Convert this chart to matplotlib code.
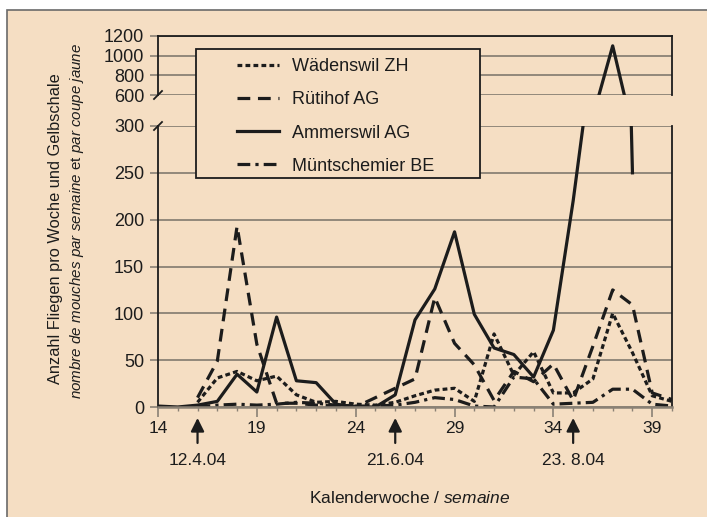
import numpy as np
import matplotlib
matplotlib.use("Agg")
import matplotlib.pyplot as plt
from matplotlib.patches import Rectangle

plt.rcParams['font.family'] = ['Liberation Sans', 'DejaVu Sans']
plt.rcParams['mathtext.fontset'] = 'custom'
plt.rcParams['mathtext.rm'] = 'Liberation Sans'
plt.rcParams['mathtext.it'] = 'Liberation Sans:italic'

nan = np.nan
weeks = np.arange(14, 41)
waedenswil = [nan, nan, 5, 31, 38, 28, 33, 13, 5, 6, 3, 2, 5, 12, 18, 20, 6, 78, 34, 59, 15, 15, 30, 100, 58, 12, 6]
ruetihof = [nan, nan, 10, 49, 193, 67, 4, 4, 2, 1, 0, 10, 20, 30, 117, 68, 45, 7, 38, 27, 46, 7, 65, 125, 109, 15, 8]
ammerswil = [1, 0, 2, 6, 35, 16, 96, 28, 26, 3, 0, 0, 13, 93, 126, 187, 99, 63, 56, 32, 82, 220, 380, 1100, 250, nan, nan]
muentschemier = [nan, nan, 0, 2, 3, 2, 3, 5, 4, 2, 1, 1, 2, 5, 10, 8, 1, 0, 32, 30, 3, 4, 5, 19, 19, 3, 1]
names = ['Wädenswil ZH', 'Rütihof AG', 'Ammerswil AG', 'Müntschemier BE']

x_ticks = [14, 19, 24, 29, 34, 39]
low_ticks = [0, 50, 100, 150, 200, 250, 300]
high_ticks = [600, 800, 1000, 1200]
arrow_weeks = [16, 26, 35]
arrow_labels = ['12.4.04', '21.6.04', '23. 8.04']

W, H = 707, 517
def fx(px):
    return px / W
def fy(py):
    return 1 - py / H

bg = '#f5dec3'
ink = '#1c1c1c'
grid = '#8a8175'

fig = plt.figure(figsize=(W / 100, H / 100), dpi=100)
fig.patch.set_facecolor('white')
fig.add_artist(Rectangle((fx(7), -0.1), 1.2, fy(10) + 0.1, transform=fig.transFigure,
                         facecolor=bg, edgecolor='#6a6a6a', lw=1.2, zorder=-5))

ax = fig.add_axes([fx(158), fy(407), fx(672) - fx(158), fy(126) - fy(407)])
ax_up = fig.add_axes([fx(158), fy(95), fx(672) - fx(158), fy(36) - fy(95)])

styles = [dict(dashes=(1.5, 1.0)), dict(dashes=(4.0, 2.4)), dict(ls='-'),
          dict(dashes=(4.0, 1.6, 1.0, 1.6))]
series = [waedenswil, ruetihof, ammerswil, muentschemier]
handles = []
for vals, st, name in zip(series, styles, names):
    ln, = ax.plot(weeks, vals, color=ink, lw=2.3, label=name, **st)
    handles.append(ln)
ax_up.plot(weeks, ammerswil, color=ink, lw=2.3, **styles[2])

for a in (ax, ax_up):
    a.set_facecolor('none')
    a.set_xlim(14, 40)
    a.yaxis.grid(True, color=grid, lw=1.3)
    a.set_axisbelow(True)
    a.tick_params(axis='y', length=6, width=1.2, color=grid, labelsize=13, pad=4, labelcolor=ink)
    a.spines['left'].set_color(ink)
    a.spines['right'].set_color(ink)
    a.spines['left'].set_linewidth(1.3)
    a.spines['right'].set_linewidth(1.3)

ax.set_ylim(0, 300)
ax.set_yticks(low_ticks)
ax.spines['top'].set_visible(False)
ax.spines['bottom'].set_color(grid)
ax.spines['bottom'].set_linewidth(1.8)
ax.set_xticks(x_ticks)
ax.set_xticks(weeks, minor=True)
ax.tick_params(axis='x', which='major', length=7, width=1.2, color=grid, labelsize=12.5, pad=3, labelcolor=ink)
ax.tick_params(axis='x', which='minor', length=3, width=1, color=grid)

ax_up.set_ylim(600, 1200)
ax_up.set_yticks(high_ticks)
ax_up.spines['bottom'].set_visible(False)
ax_up.spines['top'].set_color(ink)
ax_up.spines['top'].set_linewidth(1.3)
ax_up.set_xticks([])

# break marks on left axis
bw = 4 / 514
ax_up.plot([-bw, bw], [-4 / 59, 4 / 59], transform=ax_up.transAxes, color=ink, lw=1.3, clip_on=False)
ax.plot([-bw, bw], [1 - 4 / 281, 1 + 4 / 281], transform=ax.transAxes, color=ink, lw=1.3, clip_on=False)

# arrows + dates
for wk, lab in zip(arrow_weeks, arrow_labels):
    ax.annotate('', xy=(wk, -0.039), xytext=(wk, -0.128), xycoords=('data', 'axes fraction'),
                textcoords=('data', 'axes fraction'),
                arrowprops=dict(arrowstyle='-|>', color=ink, lw=1.6, mutation_scale=20, shrinkA=0, shrinkB=0))
    ax.annotate(lab, xy=(wk, -0.189), xycoords=('data', 'axes fraction'), ha='center', va='center',
                fontsize=12.5, color=ink)

# legend
fig.add_artist(Rectangle((fx(196), fy(178)), fx(480) - fx(196), fy(49) - fy(178), transform=fig.transFigure,
                         facecolor=bg, edgecolor=ink, lw=1.3, zorder=4))
fig.legend(handles, names, loc='upper left', bbox_to_anchor=(fx(237), fy(58)), frameon=False,
           fontsize=13, handlelength=2.3, handletextpad=0.72, borderpad=0, borderaxespad=0,
           labelspacing=0.9, labelcolor=ink)

fig.text(fx(56), fy(229), 'Anzahl Fliegen pro Woche und Gelbschale', rotation=90,
         ha='center', va='center', fontsize=11.8, color=ink)
fig.text(fx(77), fy(221), r'$\mathit{nombre\ de\ mouches\ par\ semaine}$ et $\mathit{par\ coupe\ jaune}$',
         rotation=90, ha='center', va='center', fontsize=10.9, color=ink)
fig.text(fx(410), fy(498), r'Kalenderwoche / $\mathit{semaine}$', ha='center', va='center',
         fontsize=12.5, color=ink)

fig.savefig('out.png', dpi=100)
